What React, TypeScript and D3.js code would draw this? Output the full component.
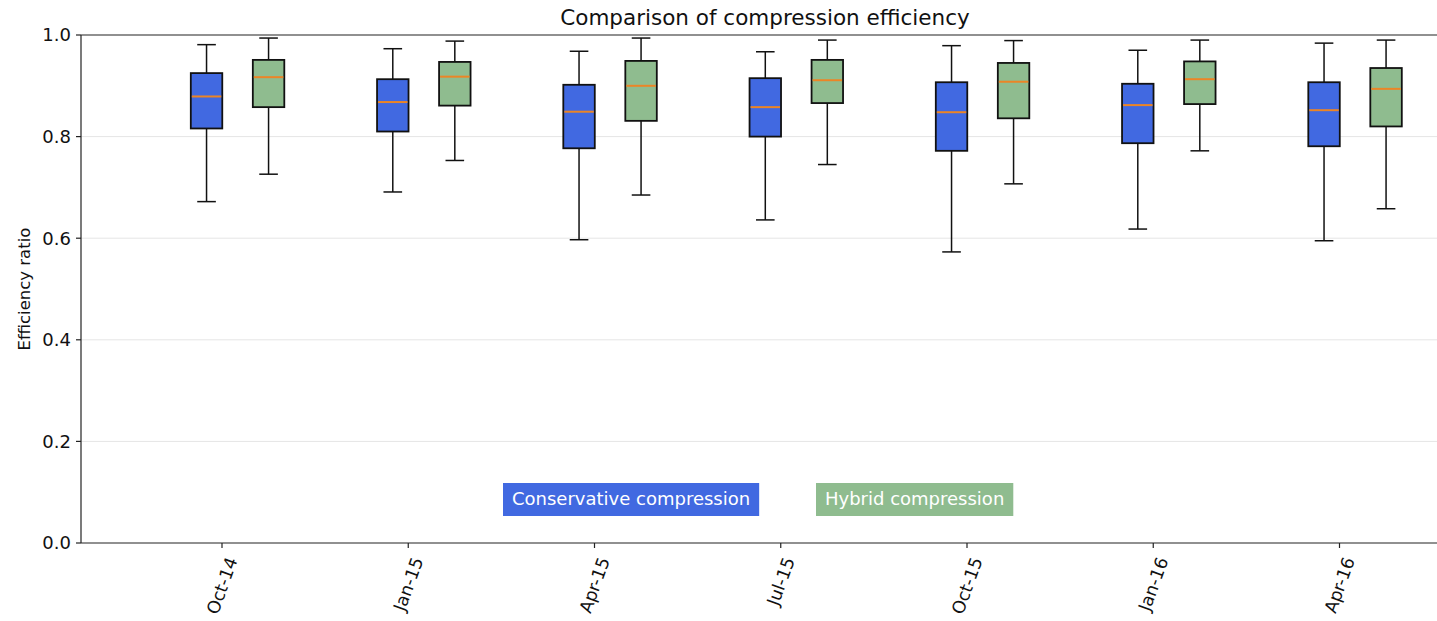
import React, { useEffect, useRef } from "react";
import * as d3 from "d3";

const months = ["Oct-14", "Jan-15", "Apr-15", "Jul-15", "Oct-15", "Jan-16", "Apr-16"];
const yTicks = [0.0, 0.2, 0.4, 0.6, 0.8, 1.0];

const consLo = [0.672, 0.691, 0.597, 0.636, 0.573, 0.618, 0.595];
const consQ1 = [0.816, 0.81, 0.777, 0.8, 0.772, 0.787, 0.781];
const consMed = [0.879, 0.868, 0.849, 0.858, 0.848, 0.862, 0.852];
const consQ3 = [0.925, 0.913, 0.902, 0.915, 0.907, 0.904, 0.907];
const consHi = [0.981, 0.973, 0.968, 0.967, 0.979, 0.97, 0.984];

const hybLo = [0.726, 0.753, 0.685, 0.745, 0.707, 0.772, 0.658];
const hybQ1 = [0.858, 0.861, 0.831, 0.866, 0.836, 0.864, 0.82];
const hybMed = [0.917, 0.918, 0.9, 0.911, 0.908, 0.913, 0.894];
const hybQ3 = [0.951, 0.947, 0.949, 0.951, 0.945, 0.948, 0.935];
const hybHi = [0.994, 0.988, 0.994, 0.99, 0.989, 0.99, 0.99];

const seriesNames = ["Conservative compression", "Hybrid compression"];
const seriesColors = ["#4169e1", "#8fbc8f"];

const W = 1437;
const H = 621;
const FONT = "DejaVu Sans, sans-serif";

export default function App() {
  const ref = useRef<SVGSVGElement | null>(null);

  useEffect(() => {
    const svg = d3.select(ref.current);
    svg.selectAll("*").remove();

    const left = 81, right = 1449, top = 35, bottom = 543;
    const y = d3.scaleLinear().domain([0, 1]).range([bottom, top]);
    const x = d3.scaleLinear().domain([0, months.length - 1]).range([222, 1339.5]);
    const unit = x(1) - x(0);
    const boxW = 0.169 * unit;
    const capW = 0.1 * unit;

    // grid
    svg.append("g").selectAll("line").data(yTicks.filter((t) => t > 0 && t < 1)).join("line")
      .attr("x1", left).attr("x2", right)
      .attr("y1", (d) => y(d)).attr("y2", (d) => y(d))
      .attr("stroke", "#e5e5e5").attr("stroke-width", 1);

    const series = [
      { lo: consLo, q1: consQ1, med: consMed, q3: consQ3, hi: consHi, off: -0.083, color: seriesColors[0] },
      { lo: hybLo, q1: hybQ1, med: hybMed, q3: hybQ3, hi: hybHi, off: 0.25, color: seriesColors[1] },
    ];

    series.forEach((s) => {
      const g = svg.append("g");
      months.forEach((_, i) => {
        const cx = x(i + s.off);
        const stroke = "#111";
        g.append("line").attr("x1", cx).attr("x2", cx).attr("y1", y(s.q3[i])).attr("y2", y(s.hi[i])).attr("stroke", stroke).attr("stroke-width", 1.5);
        g.append("line").attr("x1", cx).attr("x2", cx).attr("y1", y(s.q1[i])).attr("y2", y(s.lo[i])).attr("stroke", stroke).attr("stroke-width", 1.5);
        g.append("line").attr("x1", cx - capW / 2).attr("x2", cx + capW / 2).attr("y1", y(s.hi[i])).attr("y2", y(s.hi[i])).attr("stroke", stroke).attr("stroke-width", 1.5);
        g.append("line").attr("x1", cx - capW / 2).attr("x2", cx + capW / 2).attr("y1", y(s.lo[i])).attr("y2", y(s.lo[i])).attr("stroke", stroke).attr("stroke-width", 1.5);
        g.append("rect").attr("x", cx - boxW / 2).attr("width", boxW)
          .attr("y", y(s.q3[i])).attr("height", y(s.q1[i]) - y(s.q3[i]))
          .attr("fill", s.color).attr("stroke", stroke).attr("stroke-width", 1.8);
        g.append("line").attr("x1", cx - boxW / 2 + 1).attr("x2", cx + boxW / 2 - 1).attr("y1", y(s.med[i])).attr("y2", y(s.med[i])).attr("stroke", "#ec8526").attr("stroke-width", 2);
      });
    });

    // spines
    const axisColor = "#222";
    svg.append("line").attr("x1", left).attr("x2", left).attr("y1", top).attr("y2", bottom).attr("stroke", axisColor).attr("stroke-width", 1.2);
    svg.append("line").attr("x1", left).attr("x2", right).attr("y1", top).attr("y2", top).attr("stroke", axisColor).attr("stroke-width", 1.2);
    svg.append("line").attr("x1", left).attr("x2", right).attr("y1", bottom).attr("y2", bottom).attr("stroke", axisColor).attr("stroke-width", 1.2);

    // y ticks
    const yt = svg.append("g");
    yTicks.forEach((t) => {
      yt.append("line").attr("x1", left - 5).attr("x2", left).attr("y1", y(t)).attr("y2", y(t)).attr("stroke", axisColor).attr("stroke-width", 1.2);
      yt.append("text").attr("x", left - 10).attr("y", y(t)).attr("dy", "0.35em")
        .attr("text-anchor", "end").attr("font-family", FONT).attr("font-size", 18).attr("fill", "#111")
        .text(d3.format(".1f")(t));
    });

    // x ticks
    const xt = svg.append("g");
    months.forEach((m, i) => {
      const px = x(i);
      xt.append("line").attr("x1", px).attr("x2", px).attr("y1", bottom).attr("y2", bottom + 5).attr("stroke", axisColor).attr("stroke-width", 1.2);
      const t = xt.append("text").attr("font-family", FONT).attr("font-size", 17.5).attr("fill", "#111")
        .attr("text-anchor", "end").attr("dy", "0.35em").text(m);
      const w = (t.node() as SVGTextElement).getComputedTextLength();
      t.attr("transform", `translate(${px + 0.171 * w},${bottom + 15}) rotate(-70)`);
    });

    // y label
    svg.append("text").attr("transform", `translate(24,${(top + bottom) / 2}) rotate(-90)`)
      .attr("text-anchor", "middle").attr("dy", "0.35em").attr("font-family", FONT).attr("font-size", 16.5).attr("fill", "#111")
      .text("Efficiency ratio");

    // title
    svg.append("text").attr("x", (left + right) / 2).attr("y", 25).attr("text-anchor", "middle")
      .attr("font-family", FONT).attr("font-size", 21.5).attr("fill", "#111")
      .text("Comparison of compression efficiency");

    // legend labels
    const legendX = [503, 816];
    seriesNames.forEach((name, i) => {
      const g = svg.append("g");
      const rect = g.append("rect").attr("fill", seriesColors[i]);
      const t = g.append("text").attr("font-family", FONT).attr("font-size", 18).attr("fill", "#fff")
        .attr("x", legendX[i] + 9).attr("y", 499).attr("dy", "0.35em").text(name);
      const w = (t.node() as SVGTextElement).getComputedTextLength();
      rect.attr("x", legendX[i]).attr("y", 483).attr("width", w + 18).attr("height", 33);
    });
  }, []);

  return (
    <svg ref={ref} width={W} height={H} style={{ position: "absolute", left: 0, top: 0, background: "#fff" }} />
  );
}
